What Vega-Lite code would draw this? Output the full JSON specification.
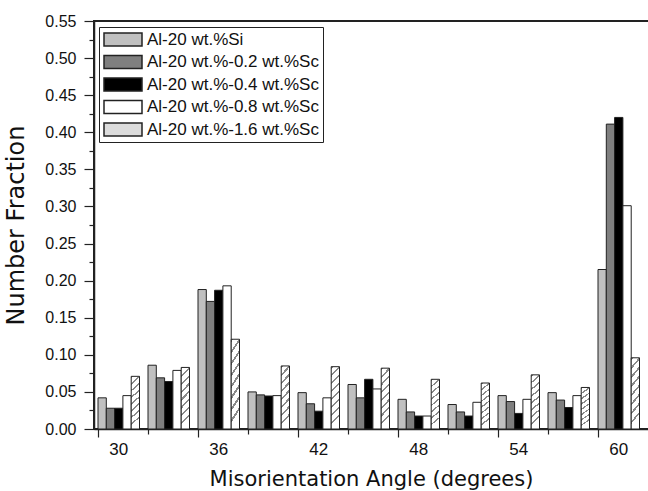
{
  "$schema": "https://vega.github.io/schema/vega-lite/v6.json",
  "autosize": {"type": "none"},
  "padding": {"left": 94, "top": 21, "right": -26, "bottom": 62},
  "width": 580,
  "height": 408,
  "background": "white",
  "config": {
    "view": {"stroke": "#222", "strokeWidth": 2},
    "axis": {"grid": false, "domainColor": "#222", "domainWidth": 1.5, "tickColor": "#222", "tickWidth": 1.2, "labelColor": "#111", "titleColor": "#111", "labelFont": "Liberation Sans", "titleFont": "DejaVu Sans", "titleFontWeight": "normal"}
  },
  "data": {
    "values": [
      {"angle": 30, "alloy": "Al-20 wt.%Si", "fraction": 0.042},
      {"angle": 30, "alloy": "Al-20 wt.%-0.2 wt.%Sc", "fraction": 0.028},
      {"angle": 30, "alloy": "Al-20 wt.%-0.4 wt.%Sc", "fraction": 0.028},
      {"angle": 30, "alloy": "Al-20 wt.%-0.8 wt.%Sc", "fraction": 0.045},
      {"angle": 30, "alloy": "Al-20 wt.%-1.6 wt.%Sc", "fraction": 0.071},
      {"angle": 33, "alloy": "Al-20 wt.%Si", "fraction": 0.086},
      {"angle": 33, "alloy": "Al-20 wt.%-0.2 wt.%Sc", "fraction": 0.069},
      {"angle": 33, "alloy": "Al-20 wt.%-0.4 wt.%Sc", "fraction": 0.064},
      {"angle": 33, "alloy": "Al-20 wt.%-0.8 wt.%Sc", "fraction": 0.079},
      {"angle": 33, "alloy": "Al-20 wt.%-1.6 wt.%Sc", "fraction": 0.083},
      {"angle": 36, "alloy": "Al-20 wt.%Si", "fraction": 0.188},
      {"angle": 36, "alloy": "Al-20 wt.%-0.2 wt.%Sc", "fraction": 0.172},
      {"angle": 36, "alloy": "Al-20 wt.%-0.4 wt.%Sc", "fraction": 0.187},
      {"angle": 36, "alloy": "Al-20 wt.%-0.8 wt.%Sc", "fraction": 0.193},
      {"angle": 36, "alloy": "Al-20 wt.%-1.6 wt.%Sc", "fraction": 0.121},
      {"angle": 39, "alloy": "Al-20 wt.%Si", "fraction": 0.050},
      {"angle": 39, "alloy": "Al-20 wt.%-0.2 wt.%Sc", "fraction": 0.046},
      {"angle": 39, "alloy": "Al-20 wt.%-0.4 wt.%Sc", "fraction": 0.0445},
      {"angle": 39, "alloy": "Al-20 wt.%-0.8 wt.%Sc", "fraction": 0.045},
      {"angle": 39, "alloy": "Al-20 wt.%-1.6 wt.%Sc", "fraction": 0.085},
      {"angle": 42, "alloy": "Al-20 wt.%Si", "fraction": 0.049},
      {"angle": 42, "alloy": "Al-20 wt.%-0.2 wt.%Sc", "fraction": 0.034},
      {"angle": 42, "alloy": "Al-20 wt.%-0.4 wt.%Sc", "fraction": 0.024},
      {"angle": 42, "alloy": "Al-20 wt.%-0.8 wt.%Sc", "fraction": 0.042},
      {"angle": 42, "alloy": "Al-20 wt.%-1.6 wt.%Sc", "fraction": 0.084},
      {"angle": 45, "alloy": "Al-20 wt.%Si", "fraction": 0.060},
      {"angle": 45, "alloy": "Al-20 wt.%-0.2 wt.%Sc", "fraction": 0.042},
      {"angle": 45, "alloy": "Al-20 wt.%-0.4 wt.%Sc", "fraction": 0.067},
      {"angle": 45, "alloy": "Al-20 wt.%-0.8 wt.%Sc", "fraction": 0.054},
      {"angle": 45, "alloy": "Al-20 wt.%-1.6 wt.%Sc", "fraction": 0.082},
      {"angle": 48, "alloy": "Al-20 wt.%Si", "fraction": 0.040},
      {"angle": 48, "alloy": "Al-20 wt.%-0.2 wt.%Sc", "fraction": 0.023},
      {"angle": 48, "alloy": "Al-20 wt.%-0.4 wt.%Sc", "fraction": 0.0175},
      {"angle": 48, "alloy": "Al-20 wt.%-0.8 wt.%Sc", "fraction": 0.0175},
      {"angle": 48, "alloy": "Al-20 wt.%-1.6 wt.%Sc", "fraction": 0.067},
      {"angle": 51, "alloy": "Al-20 wt.%Si", "fraction": 0.033},
      {"angle": 51, "alloy": "Al-20 wt.%-0.2 wt.%Sc", "fraction": 0.023},
      {"angle": 51, "alloy": "Al-20 wt.%-0.4 wt.%Sc", "fraction": 0.0175},
      {"angle": 51, "alloy": "Al-20 wt.%-0.8 wt.%Sc", "fraction": 0.036},
      {"angle": 51, "alloy": "Al-20 wt.%-1.6 wt.%Sc", "fraction": 0.062},
      {"angle": 54, "alloy": "Al-20 wt.%Si", "fraction": 0.045},
      {"angle": 54, "alloy": "Al-20 wt.%-0.2 wt.%Sc", "fraction": 0.037},
      {"angle": 54, "alloy": "Al-20 wt.%-0.4 wt.%Sc", "fraction": 0.021},
      {"angle": 54, "alloy": "Al-20 wt.%-0.8 wt.%Sc", "fraction": 0.040},
      {"angle": 54, "alloy": "Al-20 wt.%-1.6 wt.%Sc", "fraction": 0.073},
      {"angle": 57, "alloy": "Al-20 wt.%Si", "fraction": 0.049},
      {"angle": 57, "alloy": "Al-20 wt.%-0.2 wt.%Sc", "fraction": 0.039},
      {"angle": 57, "alloy": "Al-20 wt.%-0.4 wt.%Sc", "fraction": 0.029},
      {"angle": 57, "alloy": "Al-20 wt.%-0.8 wt.%Sc", "fraction": 0.045},
      {"angle": 57, "alloy": "Al-20 wt.%-1.6 wt.%Sc", "fraction": 0.056},
      {"angle": 60, "alloy": "Al-20 wt.%Si", "fraction": 0.215},
      {"angle": 60, "alloy": "Al-20 wt.%-0.2 wt.%Sc", "fraction": 0.411},
      {"angle": 60, "alloy": "Al-20 wt.%-0.4 wt.%Sc", "fraction": 0.420},
      {"angle": 60, "alloy": "Al-20 wt.%-0.8 wt.%Sc", "fraction": 0.301},
      {"angle": 60, "alloy": "Al-20 wt.%-1.6 wt.%Sc", "fraction": 0.096}
    ]
  },
  "mark": {"type": "bar", "stroke": "#222", "strokeWidth": 1},
  "encoding": {
    "x": {
      "field": "angle",
      "type": "ordinal",
      "scale": {"type": "band", "paddingInner": 0.17, "paddingOuter": 0.385, "align": 0.104},
      "axis": {
        "title": "Misorientation Angle (degrees)",
        "titleFontSize": 21,
        "titlePadding": 11,
        "titleX": 277,
        "labelAngle": 0,
        "labelFontSize": 17,
        "labelPadding": 4,
        "bandPosition": 0,
        "labelExpr": "datum.value % 6 === 0 ? datum.label : ''",
        "tickSize": {"condition": {"test": "datum.value % 6 === 0", "value": 8}, "value": 5}
      }
    },
    "xOffset": {
      "field": "alloy",
      "type": "nominal",
      "sort": ["Al-20 wt.%Si", "Al-20 wt.%-0.2 wt.%Sc", "Al-20 wt.%-0.4 wt.%Sc", "Al-20 wt.%-0.8 wt.%Sc", "Al-20 wt.%-1.6 wt.%Sc"],
      "scale": {"paddingInner": 0, "paddingOuter": 0}
    },
    "y": {
      "field": "fraction",
      "type": "quantitative",
      "scale": {"domain": [0, 0.55], "nice": false, "zero": true},
      "axis": {
        "title": "Number Fraction",
        "titleFontSize": 24,
        "titlePadding": 16,
        "labelFontSize": 16,
        "labelPadding": 8,
        "values": [0, 0.025, 0.05, 0.075, 0.1, 0.125, 0.15, 0.175, 0.2, 0.225, 0.25, 0.275, 0.3, 0.325, 0.35, 0.375, 0.4, 0.425, 0.45, 0.475, 0.5, 0.525, 0.55],
        "labelExpr": "round(datum.value * 1000) % 50 === 0 ? format(datum.value, '.2f') : ''",
        "tickSize": {"condition": {"test": "round(datum.value * 1000) % 50 === 0", "value": 10}, "value": 5}
      }
    },
    "fill": {
      "condition": {
        "test": "datum.alloy === 'Al-20 wt.%-1.6 wt.%Sc'",
        "value": {
          "gradient": "linear", "x1": 0, "y1": 0, "x2": 0.14, "y2": 1,
          "stops": [
            {"offset": 0, "color": "#8a8a8a"}, {"offset": 0.035, "color": "#8a8a8a"}, {"offset": 0.035, "color": "#ffffff"}, {"offset": 0.125, "color": "#ffffff"},
            {"offset": 0.125, "color": "#8a8a8a"}, {"offset": 0.16, "color": "#8a8a8a"}, {"offset": 0.16, "color": "#ffffff"}, {"offset": 0.25, "color": "#ffffff"},
            {"offset": 0.25, "color": "#8a8a8a"}, {"offset": 0.285, "color": "#8a8a8a"}, {"offset": 0.285, "color": "#ffffff"}, {"offset": 0.375, "color": "#ffffff"},
            {"offset": 0.375, "color": "#8a8a8a"}, {"offset": 0.41, "color": "#8a8a8a"}, {"offset": 0.41, "color": "#ffffff"}, {"offset": 0.5, "color": "#ffffff"},
            {"offset": 0.5, "color": "#8a8a8a"}, {"offset": 0.535, "color": "#8a8a8a"}, {"offset": 0.535, "color": "#ffffff"}, {"offset": 0.625, "color": "#ffffff"},
            {"offset": 0.625, "color": "#8a8a8a"}, {"offset": 0.66, "color": "#8a8a8a"}, {"offset": 0.66, "color": "#ffffff"}, {"offset": 0.75, "color": "#ffffff"},
            {"offset": 0.75, "color": "#8a8a8a"}, {"offset": 0.785, "color": "#8a8a8a"}, {"offset": 0.785, "color": "#ffffff"}, {"offset": 0.875, "color": "#ffffff"},
            {"offset": 0.875, "color": "#8a8a8a"}, {"offset": 0.91, "color": "#8a8a8a"}, {"offset": 0.91, "color": "#ffffff"}, {"offset": 1, "color": "#ffffff"}
          ]
        }
      },
      "field": "alloy",
      "type": "nominal",
      "sort": ["Al-20 wt.%Si", "Al-20 wt.%-0.2 wt.%Sc", "Al-20 wt.%-0.4 wt.%Sc", "Al-20 wt.%-0.8 wt.%Sc", "Al-20 wt.%-1.6 wt.%Sc"],
      "scale": {
        "domain": ["Al-20 wt.%Si", "Al-20 wt.%-0.2 wt.%Sc", "Al-20 wt.%-0.4 wt.%Sc", "Al-20 wt.%-0.8 wt.%Sc", "Al-20 wt.%-1.6 wt.%Sc"],
        "range": ["#c0c0c0", "#7f7f7f", "#000000", "#ffffff", "#dcdcdc"]
      },
      "legend": {
        "title": null,
        "orient": "none",
        "legendX": 5,
        "legendY": 6,
        "padding": 4,
        "strokeColor": "#222",
        "fillColor": "white",
        "labelFont": "Liberation Sans",
        "labelFontSize": 17,
        "labelColor": "#111",
        "labelOffset": 4,
        "labelLimit": 300,
        "symbolType": "M-1,-0.342H1V0.342H-1Z",
        "symbolSize": 1444,
        "symbolStrokeWidth": 1.5,
        "symbolOpacity": 1,
        "clipHeight": 17,
        "rowPadding": 4.5
      }
    }
  }
}
